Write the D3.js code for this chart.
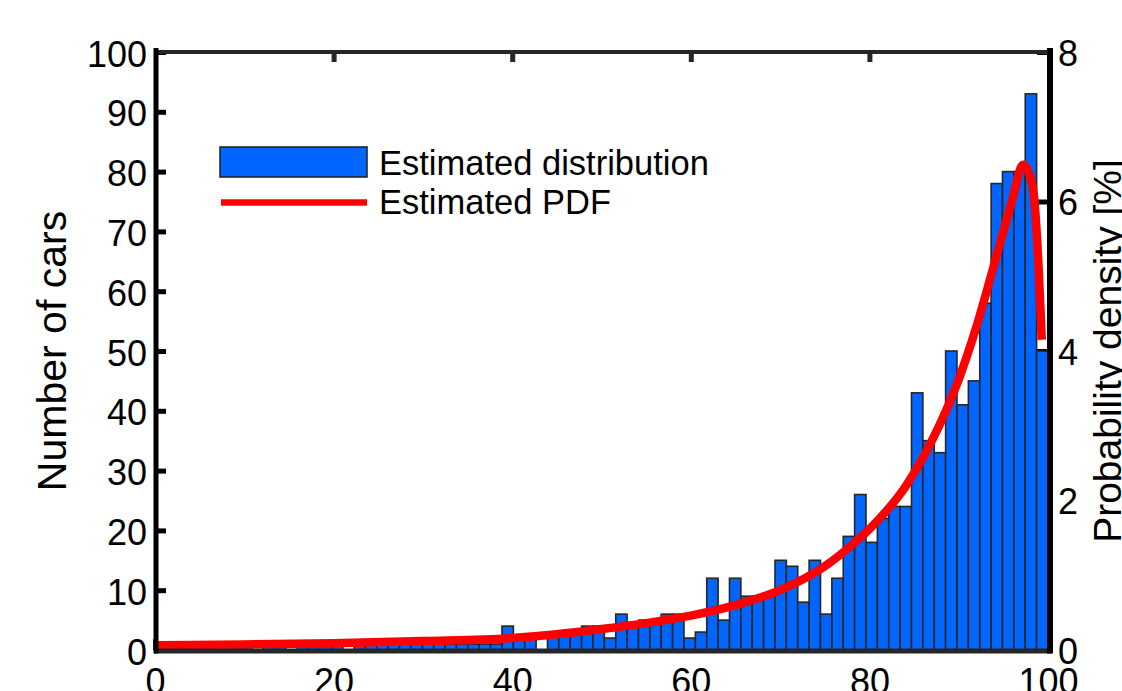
<!DOCTYPE html>
<html>
<head>
<meta charset="utf-8">
<script src="https://cdn.jsdelivr.net/npm/d3@7"></script>
<style>
  body { margin: 0; background: #fff; }
  svg { display: block; }
  text { font-family: "Liberation Sans", Arial, Helvetica, sans-serif; }
</style>
</head>
<body>
<svg id="chart" width="1122" height="691"></svg>
<script>
// histogram: 78 bins between binLo and binHi
var binLo = 0.64;
var binHi = 100;
var counts = [
	0, 1, 0, 1, 1, 0, 1, 1, 0, 1,
	1, 0, 1, 1, 1, 1, 0, 1, 1, 1,
	1, 1, 1, 1, 1, 1, 1, 1, 1, 1,
	4, 2, 2, 0, 3, 3, 3, 4, 4, 2,
	6, 4, 5, 5, 6, 6, 2, 3, 12, 5,
	12, 9, 9, 9, 15, 14, 8, 15, 6, 12,
	19, 26, 18, 22, 24, 24, 43, 35, 33, 50,
	41, 45, 58, 78, 80, 80, 93, 50
];

// fitted pdf, in percent
var pdfX = [0, 10, 20, 30, 40, 45, 50, 55, 60, 65, 70, 75, 78, 81, 84, 87, 90, 92, 94, 96, 97.2, 97.8, 98.4, 98.8, 99.3];
var pdfY = [0.063, 0.075, 0.09, 0.12, 0.16, 0.21, 0.28, 0.36, 0.46, 0.60, 0.80, 1.12, 1.40, 1.74, 2.18, 2.80, 3.62, 4.33, 5.17, 6.02, 6.49, 6.40, 6.10, 5.45, 4.15];

var xTicks = [0, 20, 40, 60, 80, 100];
var yTicks = [0, 10, 20, 30, 40, 50, 60, 70, 80, 90, 100];
var yRightTicks = [0, 2, 4, 6, 8];

var legendLabels = ["Estimated distribution", "Estimated PDF"];

var svg = d3.select("#chart");

var x = d3.scaleLinear().domain([0, 100]).range([155, 1048]);
var y = d3.scaleLinear().domain([0, 100]).range([650, 52]);
var yR = d3.scaleLinear().domain([0, 8]).range([650, 52]);

var binW = (binHi - binLo) / counts.length;
var bins = counts.map(function (c, i) {
	return {x0: binLo + i * binW, x1: binLo + (i + 1) * binW, n: c};
});

function styleAxis(g, color, size) {
	g.select(".domain").remove();
	g.selectAll(".tick line").attr("stroke", color).attr("stroke-width", 5);
	g.selectAll(".tick text")
		.attr("fill", "#000")
		.style("font-size", size + "px")
		.style("font-family", '"Liberation Sans", Arial, Helvetica, sans-serif');
}

//ticks sit under the data
var gBottom = svg.append("g")
	.attr("transform", "translate(0," + y(0) + ")")
	.call(d3.axisBottom(x).tickValues(xTicks).tickSize(-11).tickPadding(18));
styleAxis(gBottom, "#262626", 36);

var gTop = svg.append("g")
	.attr("transform", "translate(0,52)")
	.call(d3.axisTop(x).tickValues([20, 40, 60, 80]).tickSize(-10).tickFormat(""));
styleAxis(gTop, "#262626", 36);

var gLeft = svg.append("g")
	.attr("transform", "translate(155,0)")
	.call(d3.axisLeft(y).tickValues(yTicks).tickSize(-11).tickPadding(8));
styleAxis(gLeft, "#000", 36);
gLeft.selectAll(".tick text").attr("dy", "0.39em");

var gRight = svg.append("g")
	.attr("transform", "translate(1048,0)")
	.call(d3.axisRight(yR).tickValues(yRightTicks).tickSize(-11).tickPadding(10));
styleAxis(gRight, "#000", 36);
gRight.selectAll(".tick text").attr("dy", "0.37em");

//bars
svg.append("g")
	.selectAll("rect")
	.data(bins.filter(function (d) { return d.n > 0; }))
	.enter()
	.append("rect")
	.attr("x", function (d) { return x(d.x0); })
	.attr("width", function (d) { return x(d.x1) - x(d.x0); })
	.attr("y", function (d) { return y(d.n); })
	.attr("height", function (d) { return y(0) - y(d.n); })
	.attr("fill", "#0066ff")
	.attr("stroke", "#262626")
	.attr("stroke-width", 1.6);

//pdf curve
var line = d3.line()
	.x(function (d) { return x(d[0]); })
	.y(function (d) { return yR(d[1]); })
	.curve(d3.curveMonotoneX);

svg.append("path")
	.datum(d3.zip(pdfX, pdfY))
	.attr("d", line)
	.attr("fill", "none")
	.attr("stroke", "#ff0000")
	.attr("stroke-width", 8.5)
	.attr("stroke-linejoin", "round");

//box lines on top
svg.append("line").attr("x1", 154).attr("x2", 1052).attr("y1", 52).attr("y2", 52)
	.attr("stroke", "#262626").attr("stroke-width", 4);
svg.append("line").attr("x1", 154).attr("x2", 1052).attr("y1", 651).attr("y2", 651)
	.attr("stroke", "#262626").attr("stroke-width", 5);
svg.append("line").attr("x1", 156).attr("x2", 156).attr("y1", 48).attr("y2", 653.5)
	.attr("stroke", "#000").attr("stroke-width", 5);
svg.append("line").attr("x1", 1050).attr("x2", 1050).attr("y1", 48).attr("y2", 653.5)
	.attr("stroke", "#000").attr("stroke-width", 6);

//axis labels
svg.append("text")
	.attr("transform", "translate(66,351) rotate(-90)")
	.attr("text-anchor", "middle")
	.style("font-size", "41px")
	.attr("fill", "#000")
	.text("Number of cars");

svg.append("text")
	.attr("transform", "translate(1121,351) rotate(-90)")
	.attr("text-anchor", "middle")
	.style("font-size", "39px")
	.attr("fill", "#000")
	.text("Probability density [%]");

//legend
var legend = svg.append("g");
legend.append("rect")
	.attr("x", 220).attr("y", 147).attr("width", 147).attr("height", 30)
	.attr("fill", "#0066ff").attr("stroke", "#262626").attr("stroke-width", 1.6);
legend.append("line")
	.attr("x1", 221).attr("x2", 367).attr("y1", 202.5).attr("y2", 202.5)
	.attr("stroke", "#ff0000").attr("stroke-width", 6.5);
legend.selectAll("text.leg")
	.data(legendLabels)
	.enter()
	.append("text")
	.attr("class", "leg")
	.attr("x", 379)
	.attr("y", function (d, i) { return 175 + i * 38.5; })
	.style("font-size", "34.5px")
	.attr("fill", "#000")
	.text(function (d) { return d; });
</script>
</body>
</html>
